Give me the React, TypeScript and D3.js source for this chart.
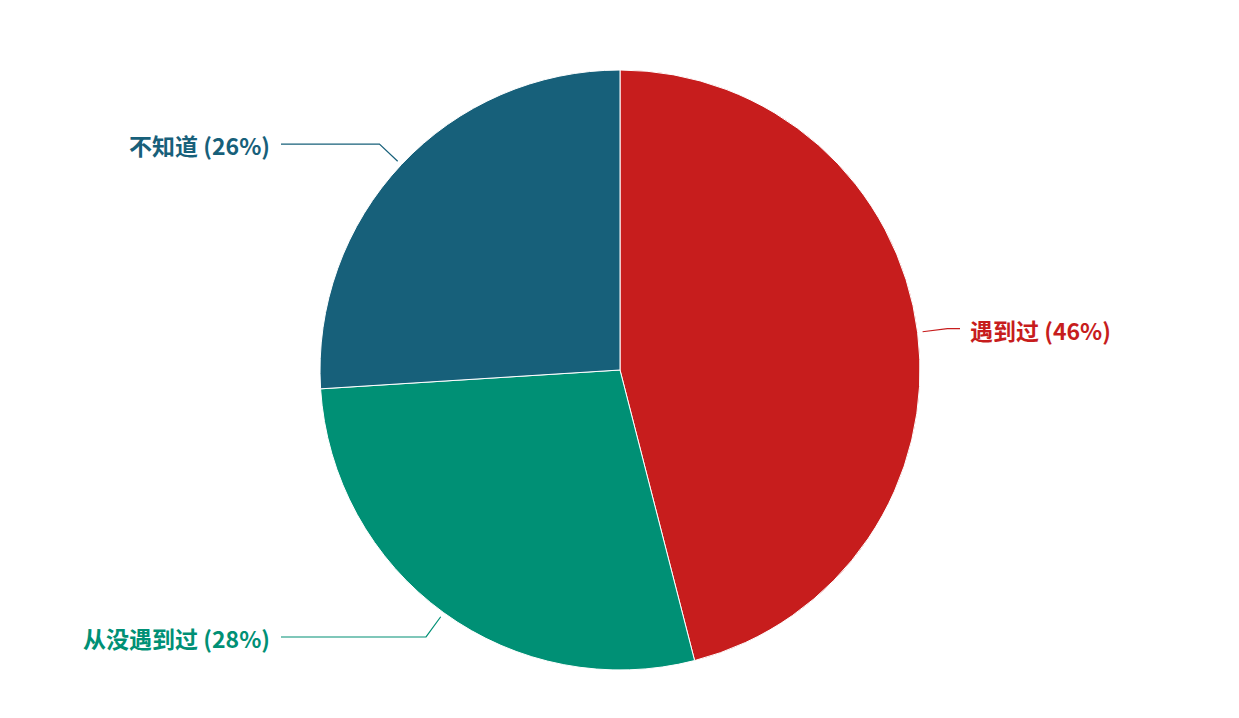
import React from "react";
import * as d3 from "d3";

const categories = ["遇到过", "从没遇到过", "不知道"];
const values = [46, 28, 26];
const colors = ["#c71d1d", "#009075", "#17607a"];

const W = 1239;
const H = 718;
const cx = 620;
const cy = 370;
const R = 300;

export default function App() {
  const pie = d3.pie<number>().sort(null).value((d) => d)(values);
  const arc = d3.arc<d3.PieArcDatum<number>>().innerRadius(0).outerRadius(R);
  const total = d3.sum(values);
  return (
    <svg width={W} height={H} style={{ position: "absolute", left: 0, top: 0 }}>
      <rect width={W} height={H} fill="#ffffff" />
      <g transform={`translate(${cx},${cy})`}>
        {pie.map((p, i) => (
          <path key={i} d={arc(p) || ""} fill={colors[i]} stroke="#ffffff" strokeWidth={1} />
        ))}
        {pie.map((p, i) => {
          const a = (p.startAngle + p.endAngle) / 2;
          const s = Math.sin(a);
          const c = -Math.cos(a);
          const x0 = (R + 5) * s;
          const y0 = (R + 5) * c;
          const x1 = (R + 30) * s;
          const y1 = (R + 30) * c;
          const right = s >= 0;
          const x2 = right ? 340 : -339;
          const tx = right ? x2 + 10 : x2 - 11;
          const pct = Math.round((values[i] / total) * 100);
          return (
            <g key={"l" + i}>
              <polyline
                points={`${x0},${y0} ${x1},${y1} ${x2},${y1}`}
                fill="none"
                stroke={colors[i]}
                strokeWidth={1.2}
              />
              <text
                x={tx}
                y={y1 + 3}
                dy="0.35em"
                textAnchor={right ? "start" : "end"}
                fill={colors[i]}
                fontFamily="'Noto Sans CJK SC', 'Noto Sans', sans-serif"
                fontWeight={700}
                fontSize={23}
              >
                {`${categories[i]} (${pct}%)`}
              </text>
            </g>
          );
        })}
      </g>
    </svg>
  );
}
